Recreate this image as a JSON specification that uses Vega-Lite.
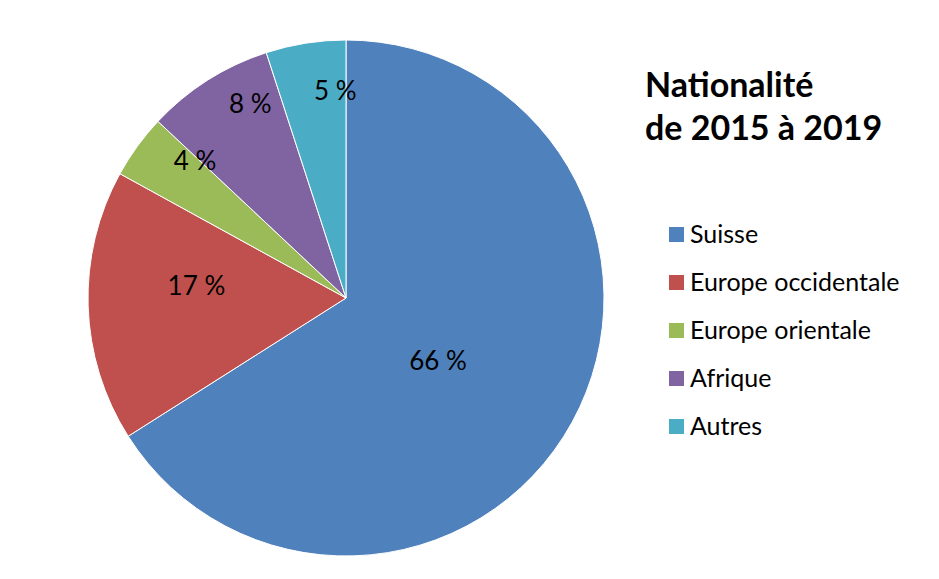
{
  "$schema": "https://vega.github.io/schema/vega-lite/v6.json",
  "width": 684,
  "height": 576,
  "padding": {"left": 4, "top": 10, "right": 0, "bottom": 0},
  "autosize": {"type": "pad"},
  "background": "white",
  "config": {"view": {"stroke": null}, "font": "Lato"},
  "data": {
    "values": [
      {"nationalite": "Suisse", "part": 66, "ordre": 1, "label": "66 %"},
      {"nationalite": "Europe occidentale", "part": 17, "ordre": 2, "label": "17 %"},
      {"nationalite": "Europe orientale", "part": 4, "ordre": 3, "label": "4 %"},
      {"nationalite": "Afrique", "part": 8, "ordre": 4, "label": "8 %"},
      {"nationalite": "Autres", "part": 5, "ordre": 5, "label": "5 %"}
    ]
  },
  "resolve": {"scale": {"theta": "independent"}},
  "layer": [
    {
      "mark": {"type": "arc", "outerRadius": 258, "stroke": "white", "strokeWidth": 1},
      "encoding": {
        "theta": {"field": "part", "type": "quantitative", "stack": true},
        "order": {"field": "ordre", "type": "quantitative"},
        "color": {
          "field": "nationalite",
          "type": "nominal",
          "sort": ["Suisse", "Europe occidentale", "Europe orientale", "Afrique", "Autres"],
          "scale": {
            "domain": ["Suisse", "Europe occidentale", "Europe orientale", "Afrique", "Autres"],
            "range": ["#4F81BD", "#C0504D", "#9BBB59", "#8064A2", "#4BACC6"]
          },
          "legend": {
            "orient": "none",
            "legendX": 641,
            "legendY": 60,
            "title": ["Nationalité", "de 2015 à 2019"],
            "titleFont": "Lato",
            "titleFontSize": 34,
            "titleFontWeight": "bold",
            "titleColor": "black",
            "titleLineHeight": 43,
            "titlePadding": 75,
            "titleLimit": 400,
            "labelFont": "Lato",
            "labelFontSize": 25,
            "labelColor": "black",
            "labelLimit": 400,
            "labelOffset": 1,
            "symbolType": "square",
            "symbolSize": 225,
            "symbolStrokeWidth": 0,
            "symbolOffset": 19,
            "rowPadding": 22
          }
        }
      }
    },
    {
      "mark": {"type": "text", "fontSize": 26, "font": "Lato", "color": "black"},
      "encoding": {
        "theta": {"field": "part", "type": "quantitative", "stack": true, "scale": {"range": [0.1047, 6.3879]}},
        "order": {"field": "ordre", "type": "quantitative"},
        "text": {"field": "label", "type": "nominal"},
        "radius": {
          "field": "part",
          "type": "quantitative",
          "scale": {"type": "linear", "domain": [4, 8, 17, 66], "range": [203, 215, 150, 112], "zero": false}
        }
      }
    }
  ]
}
